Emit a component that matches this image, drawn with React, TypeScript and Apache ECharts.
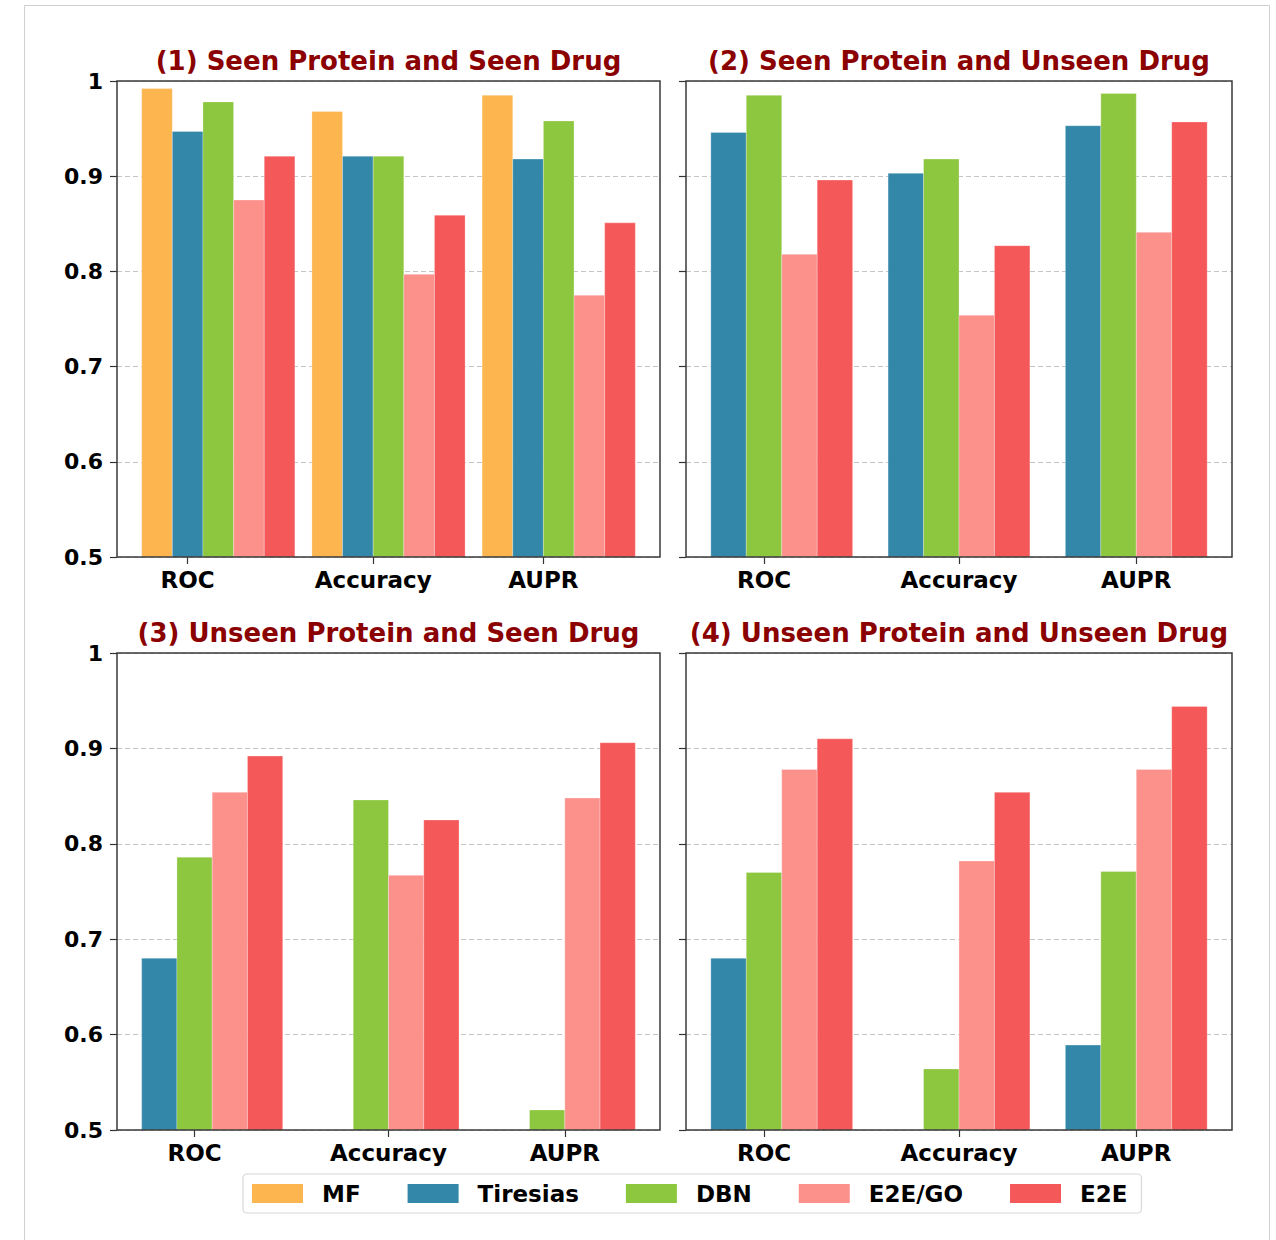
import React, { useEffect, useRef } from "react";
import * as echarts from "echarts";

// ---------- data ----------
const categories = ["ROC", "Accuracy", "AUPR"];
const methods = ["MF", "Tiresias", "DBN", "E2E/GO", "E2E"];
const colors: Record<string, string> = {
  MF: "#FDB550",
  Tiresias: "#3387A9",
  DBN: "#8DC63F",
  "E2E/GO": "#FC918C",
  E2E: "#F55858",
};

// (1) Seen Protein and Seen Drug
const p1MF = [0.992, 0.968, 0.985];
const p1Tiresias = [0.947, 0.921, 0.918];
const p1DBN = [0.978, 0.921, 0.958];
const p1E2EGO = [0.875, 0.797, 0.775];
const p1E2E = [0.921, 0.859, 0.851];

// (2) Seen Protein and Unseen Drug
const p2Tiresias = [0.946, 0.903, 0.953];
const p2DBN = [0.985, 0.918, 0.987];
const p2E2EGO = [0.818, 0.754, 0.841];
const p2E2E = [0.896, 0.827, 0.957];

// (3) Unseen Protein and Seen Drug
const p3Tiresias = [0.68, null, null];
const p3DBN = [0.786, 0.846, 0.521];
const p3E2EGO = [0.854, 0.767, 0.848];
const p3E2E = [0.892, 0.825, 0.906];

// (4) Unseen Protein and Unseen Drug
const p4Tiresias = [0.68, null, 0.589];
const p4DBN = [0.77, 0.564, 0.771];
const p4E2EGO = [0.878, 0.782, 0.878];
const p4E2E = [0.91, 0.854, 0.944];

const titles = [
  "(1) Seen Protein and Seen Drug",
  "(2) Seen Protein and Unseen Drug",
  "(3) Unseen Protein and Seen Drug",
  "(4) Unseen Protein and Unseen Drug",
];

// ---------- layout ----------
const FONT = "'DejaVu Sans', sans-serif";

const panels = [
  {
    title: titles[0],
    left: 117, top: 81, width: 543, height: 476,
    w: 0.18,
    tickPos: [-0.18, 0.91, 1.91],
    series: [
      ["MF", p1MF], ["Tiresias", p1Tiresias], ["DBN", p1DBN], ["E2E/GO", p1E2EGO], ["E2E", p1E2E],
    ] as [string, (number | null)[]][],
    yLabels: true,
  },
  {
    title: titles[1],
    left: 686, top: 81, width: 546, height: 476,
    w: 0.2,
    tickPos: [-0.1, 1, 2],
    series: [
      ["Tiresias", p2Tiresias], ["DBN", p2DBN], ["E2E/GO", p2E2EGO], ["E2E", p2E2E],
    ] as [string, (number | null)[]][],
    yLabels: false,
  },
  {
    title: titles[2],
    left: 117, top: 653, width: 543, height: 477,
    w: 0.2,
    tickPos: [-0.1, 1, 2],
    series: [
      ["Tiresias", p3Tiresias], ["DBN", p3DBN], ["E2E/GO", p3E2EGO], ["E2E", p3E2E],
    ] as [string, (number | null)[]][],
    yLabels: true,
  },
  {
    title: titles[3],
    left: 686, top: 653, width: 546, height: 477,
    w: 0.2,
    tickPos: [-0.1, 1, 2],
    series: [
      ["Tiresias", p4Tiresias], ["DBN", p4DBN], ["E2E/GO", p4E2EGO], ["E2E", p4E2E],
    ] as [string, (number | null)[]][],
    yLabels: false,
  },
];

function buildOption() {
  const grid: any[] = [];
  const xAxis: any[] = [];
  const yAxis: any[] = [];
  const series: any[] = [];
  const graphic: any[] = [];

  graphic.push({
    type: "rect",
    silent: true,
    shape: { x: 24.5, y: 5.5, width: 1245, height: 1300 },
    style: { fill: "none", stroke: "#d0d0d0", lineWidth: 1 },
    z: 0,
  });

  panels.forEach((p, pi) => {
    const n = p.series.length;
    const half = (n * p.w) / 2;
    const margin = 0.05 * (2 + n * p.w);
    grid.push({
      left: p.left, top: p.top, width: p.width, height: p.height,
      show: true, borderColor: "#3a3a3a", borderWidth: 1.5, backgroundColor: "transparent",
      z: 3,
    });
    const ticks = p.tickPos;
    xAxis.push({
      type: "value",
      gridIndex: pi,
      min: -half - margin,
      max: 2 + half + margin,
      axisLine: { show: false, onZero: false },
      splitLine: { show: false },
      axisTick: { show: true, customValues: ticks, length: 7, lineStyle: { color: "#333", width: 1.2 } },
      axisLabel: {
        show: true,
        customValues: ticks,
        margin: 11,
        color: "#000",
        fontFamily: FONT,
        fontWeight: "bold",
        fontSize: 23,
        formatter: (v: number) => {
          let best = 0;
          ticks.forEach((t, i) => {
            if (Math.abs(t - v) < Math.abs(ticks[best] - v)) best = i;
          });
          return categories[best];
        },
      },
    });
    yAxis.push({
      type: "value",
      gridIndex: pi,
      min: 0.5,
      max: 1,
      interval: 0.1,
      axisLine: { show: false, onZero: false },
      axisTick: { show: true, length: 7, lineStyle: { color: "#333", width: 1.2 } },
      splitLine: { show: true, lineStyle: { type: [5, 3], color: "#c4c4c4", width: 1 } },
      axisLabel: {
        show: p.yLabels,
        margin: 14,
        color: "#000",
        fontFamily: FONT,
        fontWeight: "bold",
        fontSize: 22,
        formatter: (v: number) => (Math.abs(v - 1) < 1e-9 ? "1" : v.toFixed(1)),
      },
    });

    p.series.forEach(([name, vals], slot) => {
      const data: number[][] = [];
      vals.forEach((v, ci) => {
        if (v === null || v === undefined) return;
        const x = ci + (slot - (n - 1) / 2) * p.w;
        data.push([x, v]);
      });
      const w = p.w;
      series.push({
        type: "custom",
        name,
        xAxisIndex: pi,
        yAxisIndex: pi,
        itemStyle: { color: colors[name] },
        encode: { x: 0, y: 1 },
        z: 2,
        clip: true,
        renderItem: (params: any, api: any) => {
          const x = api.value(0);
          const y = api.value(1);
          const top = api.coord([x, y]);
          const bot = api.coord([x, 0.5]);
          const bw = api.size([w, 0])[0];
          return {
            type: "rect",
            shape: { x: top[0] - bw / 2, y: top[1], width: bw, height: bot[1] - top[1] },
            style: { fill: colors[name], stroke: "rgba(255,255,255,0.35)", lineWidth: 0.8 },
          };
        },
        data,
      });
    });

    graphic.push({
      type: "text",
      silent: true,
      x: p.left + p.width / 2,
      y: p.top - 20,
      style: {
        text: p.title,
        fill: "#8B0000",
        font: `bold 26px ${FONT}`,
        textAlign: "center",
        textVerticalAlign: "middle",
      },
    });
  });

  return {
    animation: false,
    backgroundColor: "#ffffff",
    grid,
    xAxis,
    yAxis,
    series,
    graphic,
    legend: {
      data: methods,
      left: 243,
      top: 1174,
      orient: "horizontal",
      icon: "rect",
      itemWidth: 51,
      itemHeight: 19,
      itemGap: 47,
      padding: [8, 14, 8, 9],
      borderColor: "#d8d8d8",
      borderWidth: 1.2,
      borderRadius: 4,
      backgroundColor: "#fff",
      selectedMode: false,
      textStyle: {
        color: "#000",
        fontFamily: FONT,
        fontWeight: "bold",
        fontSize: 23,
        padding: [0, 0, 0, 14],
      },
    },
  };
}

export default function App() {
  const ref = useRef<HTMLDivElement>(null);
  useEffect(() => {
    if (!ref.current) return;
    const chart = echarts.init(ref.current, undefined, { renderer: "svg" });
    chart.setOption(buildOption() as any);
    return () => chart.dispose();
  }, []);
  return (
    <div
      ref={ref}
      style={{ position: "absolute", left: 0, top: 0, width: 1276, height: 1240 }}
    />
  );
}
